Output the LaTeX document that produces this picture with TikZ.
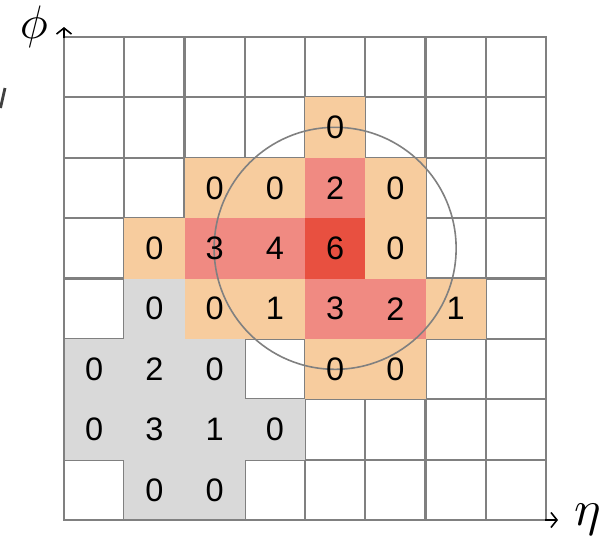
\documentclass[tikz,border=0pt]{standalone}
\usepackage{fontspec}
\usepackage{graphicx}
\setmainfont{Liberation Sans}
\usetikzlibrary{arrows.meta}
\definecolor{gridgray}{RGB}{128,128,128}
\definecolor{cellorange}{RGB}{247,204,158}
\definecolor{cellpink}{RGB}{240,138,130}
\definecolor{cellred}{RGB}{232,80,64}
\definecolor{cellgray}{RGB}{217,217,217}
\tikzset{
  gridline/.style={draw=gridgray, line width=2.2pt},
  cellbox/.style={rectangle, inner sep=0pt, outer sep=0pt, minimum width=60.25pt, minimum height=60.375pt, draw=none},
  celltext/.style={inner sep=0pt, font=\fontsize{32.5}{38}\selectfont},
  ringstyle/.style={circle, draw=gridgray, line width=1.6pt, inner sep=0pt, minimum size=242pt},
  axisarrow/.style={draw=black, line width=1.6pt, -{Straight Barb[length=6pt,width=15pt]}},
  axislabel/.style={inner sep=0pt}
}
\begin{document}
\begin{tikzpicture}[x=1pt,y=-1pt]
\useasboundingbox (0,0) rectangle (607,536);
% grid
\foreach \i in {0,...,8} {
  \draw[gridline] ({64+\i*60.25},37) -- ({64+\i*60.25},520);
  \draw[gridline] (64,{37+\i*60.375}) -- (546,{37+\i*60.375});
}
% cell fills
\foreach \c/\r/\v/\col in {
  4/1/0/cellorange, 2/2/0/cellorange, 3/2/0/cellorange, 5/2/0/cellorange,
  1/3/0/cellorange, 5/3/0/cellorange, 2/4/0/cellorange, 3/4/1/cellorange,
  6/4/1/cellorange, 4/5/0/cellorange, 5/5/0/cellorange,
  4/2/2/cellpink, 2/3/3/cellpink, 3/3/4/cellpink, 4/4/3/cellpink, 5/4/2/cellpink,
  4/3/6/cellred,
  1/4/0/cellgray, 0/5/0/cellgray, 1/5/2/cellgray, 2/5/0/cellgray,
  0/6/0/cellgray, 1/6/3/cellgray, 2/6/1/cellgray, 3/6/0/cellgray,
  1/7/0/cellgray, 2/7/0/cellgray} {
  \node[cellbox, fill=\col] (f-\c-\r) at ({64+(\c+0.5)*60.25},{37+(\r+0.5)*60.375}) {};
}
% outer border
\draw[gridline] (64,37) rectangle (546,520);
% circle
\node[ringstyle] (ring) at (f-4-3.center) {};
% cell values
\foreach \c/\r/\v in {
  4/1/0, 2/2/0, 3/2/0, 5/2/0, 1/3/0, 5/3/0, 2/4/0, 3/4/1, 6/4/1, 4/5/0, 5/5/0,
  4/2/2, 2/3/3, 3/3/4, 4/4/3, 5/4/2, 4/3/6,
  1/4/0, 0/5/0, 1/5/2, 2/5/0, 0/6/0, 1/6/3, 2/6/1, 3/6/0, 1/7/0, 2/7/0} {
  \node[celltext] (t-\c-\r) at (f-\c-\r.center) {\v};
}
% axes
\coordinate (ybase) at (64,38);
\coordinate (ytip) at (64,27);
\coordinate (xbase) at (545,520);
\coordinate (xtip) at (558,520);
\draw[axisarrow] (ybase) -- (ytip);
\draw[axisarrow] (xbase) -- (xtip);
\node[axislabel, anchor=base] (philabel) at (34,38) {\scalebox{4.7}{$\phi$}};
\node[axislabel, anchor=base] (etalabel) at (588,525) {\scalebox{5}{$\eta$}};
% fragment at left edge
\coordinate (fragA) at (5,88);
\coordinate (fragB) at (0.5,108);
\draw[draw=black!75, line width=2.8pt] (fragA) -- (fragB);
\end{tikzpicture}
\end{document}
